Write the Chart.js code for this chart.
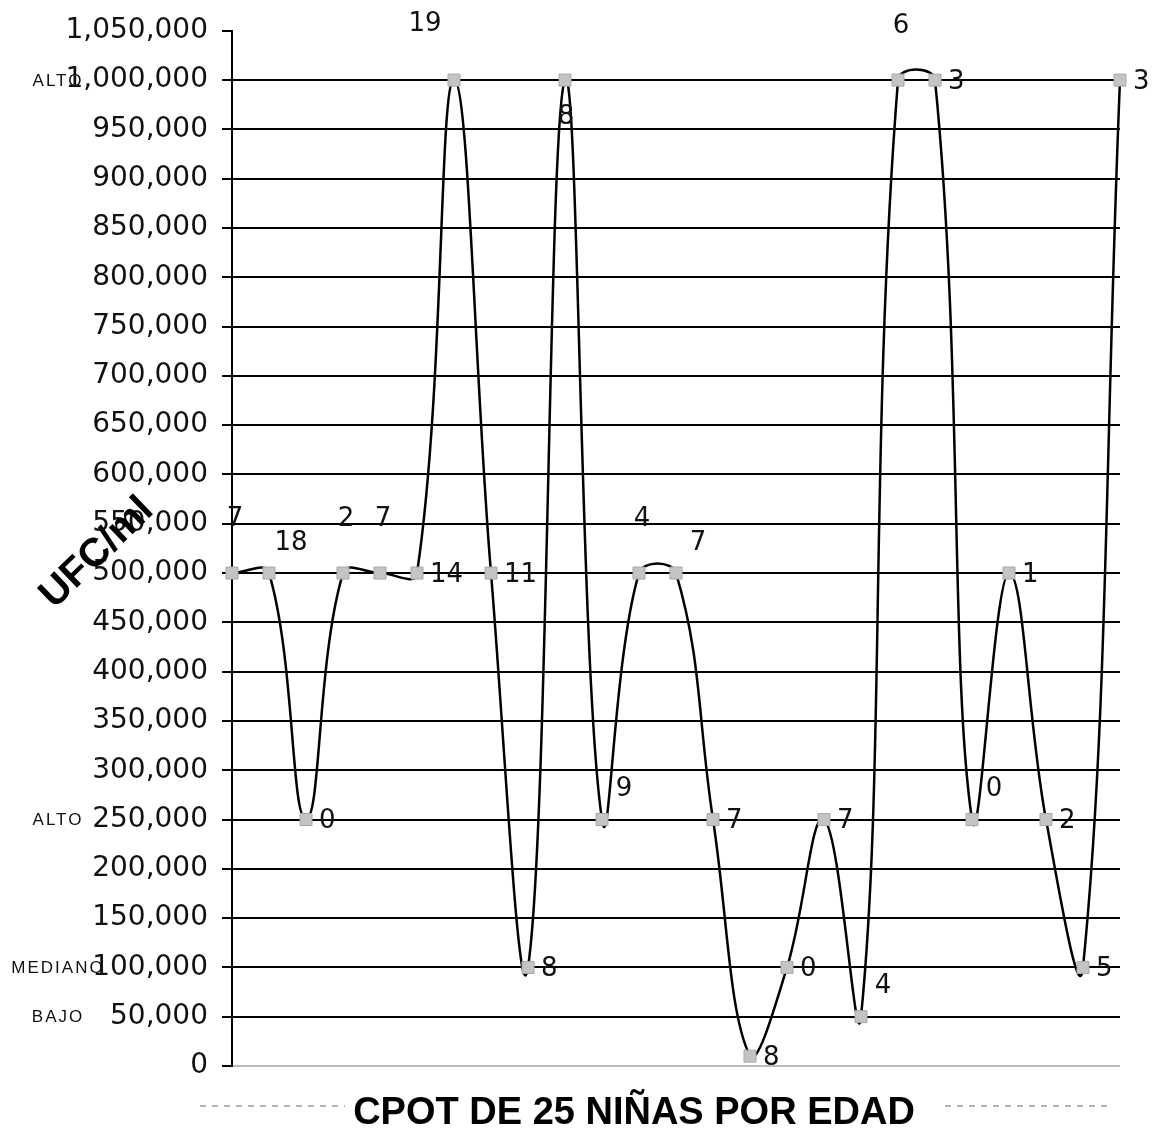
<!DOCTYPE html>
<html>
<head>
<meta charset="utf-8">
<script src="https://cdn.jsdelivr.net/npm/chart.js@4/dist/chart.umd.min.js"></script>
<style>
  html, body { margin: 0; padding: 0; background: #fff; }
  #wrap { width: 1155px; height: 1134px; position: relative; }
</style>
</head>
<body>
<div id="wrap"><canvas id="cpotChart"></canvas></div>
<script>
// 25 niñas, one point each
var ninas = ['1','2','3','4','5','6','7','8','9','10','11','12','13','14','15','16','17','18','19','20','21','22','23','24','25'];
var ufc = [500000, 500000, 250000, 500000, 500000, 500000, 1000000, 500000, 100000, 1000000,
           250000, 500000, 500000, 250000, 10000, 100000, 250000, 50000, 1000000, 1000000,
           250000, 500000, 250000, 100000, 1000000];
var edades = ['7','18','0','2','7','14','19','11','8','8','9','4','7','7','8','0','7','4','6','3','0','1','2','5','3'];
// where each number sits next to its point
var labelSpot = ['a','ar','r','a','a','r','al','r','r','b','ar','a','ar','r','r','r','r','ar','a','r','ar','r','r','r','r'];

var yMin = 0, yMax = 1050000, yStep = 50000;
var nivelNombres = ['ALTO', 'ALTO', 'MEDIANO', 'BAJO'];
var nivelValores = [1000000, 250000, 100000, 50000];

var tituloX = 'CPOT DE 25 NIÑAS POR EDAD';
var tituloY = 'UFC/ml';

document.addEventListener("DOMContentLoaded", function () {
    var ctx = document.getElementById("cpotChart");

    // numbers beside the points, level names, rotated axis title, bottom title
    var extras = {
        id: 'extras',
        afterDatasetsDraw: function (chart) {
            var c = chart.ctx;
            var meta = chart.getDatasetMeta(0);
            c.save();
            c.fillStyle = '#111';
            c.font = '26px "DejaVu Sans"';
            c.textBaseline = 'middle';
            meta.data.forEach(function (pt, i) {
                var s = labelSpot[i], x = pt.x, y = pt.y;
                if (s === 'r') { c.textAlign = 'left'; c.fillText(edades[i], x + 13, y + 2); }
                else if (s === 'a') { c.textAlign = 'center'; c.fillText(edades[i], x + 3, y - 54); }
                else if (s === 'ar') { c.textAlign = 'center'; c.fillText(edades[i], x + 22, y - 30); }
                else if (s === 'al') { c.textAlign = 'center'; c.fillText(edades[i], x - 29, y - 56); }
                else if (s === 'b') { c.textAlign = 'center'; c.fillText(edades[i], x + 1, y + 37); }
            });
            c.restore();
        },
        afterDraw: function (chart) {
            var c = chart.ctx;
            var ys = chart.scales.y;
            c.save();
            // level names at the left
            c.fillStyle = '#111';
            c.font = '17px "Liberation Sans"';
            c.letterSpacing = '2px';
            c.textAlign = 'center';
            c.textBaseline = 'middle';
            nivelNombres.forEach(function (n, i) {
                c.fillText(n, 58, ys.getPixelForValue(nivelValores[i]) + 1);
            });
            c.letterSpacing = '0px';

            // rotated y title
            c.save();
            c.translate(97, 553);
            c.rotate(-Math.PI / 4.1);
            c.font = 'bold 40px "Liberation Sans"';
            c.fillStyle = '#000';
            c.fillText(tituloY, 0, 0);
            c.restore();

            // bottom title with its dashed rule
            var ty = chart.chartArea.bottom + 44;
            c.strokeStyle = '#999';
            c.lineWidth = 1.5;
            c.setLineDash([6, 6]);
            c.beginPath();
            c.moveTo(200, ty - 4); c.lineTo(345, ty - 4);
            c.moveTo(945, ty - 4); c.lineTo(1110, ty - 4);
            c.stroke();
            c.setLineDash([]);
            c.font = 'bold 38px "Liberation Sans"';
            c.fillStyle = '#000';
            c.fillText(tituloX, 634, ty + 4);
            c.restore();
        }
    };

    new Chart(ctx, {
        type: 'line',
        data: {
            labels: ninas,
            datasets: [{
                data: ufc,
                borderColor: '#000',
                borderWidth: 2.5,
                tension: 0.4,
                fill: false,
                clip: false,
                pointStyle: 'rect',
                pointRadius: 8.5,
                pointBackgroundColor: '#c4c4c4',
                pointBorderColor: '#a8a8a8',
                pointBorderWidth: 1
            }]
        },
        options: {
            responsive: true,
            maintainAspectRatio: false,
            animation: false,
            layout: { padding: { top: 24, right: 35, bottom: 68, left: 0 } },
            plugins: {
                legend: { display: false },
                tooltip: { enabled: false }
            },
            scales: {
                x: {
                    display: false,
                    offset: false
                },
                y: {
                    min: yMin,
                    max: yMax,
                    afterFit: function (scale) { scale.width = 232; },
                    border: { display: true, color: '#000', width: 2 },
                    grid: {
                        lineWidth: 2,
                        tickLength: 10,
                        tickColor: '#000',
                        color: function (c) {
                            if (c.tick.value === yMax) return 'rgba(0,0,0,0)';
                            if (c.tick.value === 0) return '#bbb';
                            return '#000';
                        }
                    },
                    ticks: {
                        stepSize: yStep,
                        padding: 14,
                        color: '#111',
                        font: { family: 'DejaVu Sans', size: 28 },
                        callback: function (v) { return v.toLocaleString('en-US'); }
                    }
                }
            }
        },
        plugins: [extras]
    });
});
</script>
</body>
</html>
